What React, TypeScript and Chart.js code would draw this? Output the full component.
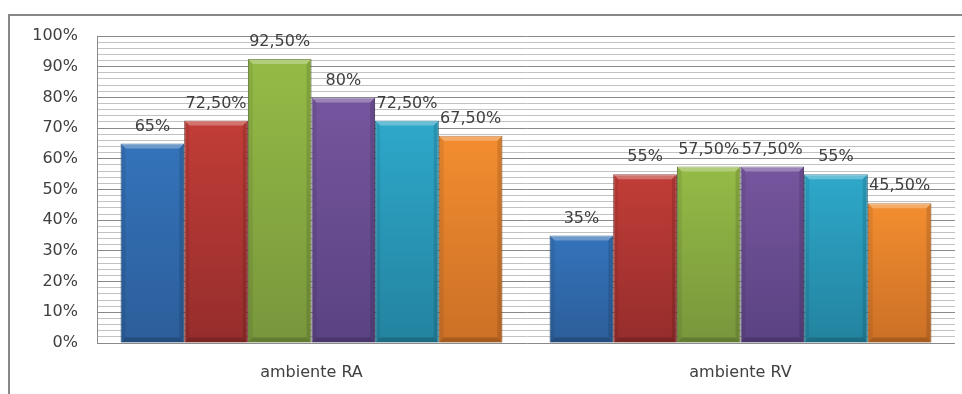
import React, { useEffect, useRef } from "react";
import { Chart, registerables } from "chart.js";

Chart.register(...registerables);

const categories = ["ambiente RA", "ambiente RV"];
const seriesNames = ["Serie 1", "Serie 2", "Serie 3", "Serie 4", "Serie 5", "Serie 6"];
const serie1 = [65, 35];
const serie2 = [72.5, 55];
const serie3 = [92.5, 57.5];
const serie4 = [80, 57.5];
const serie5 = [72.5, 55];
const serie6 = [67.5, 45.5];
const yTicks = [0, 10, 20, 30, 40, 50, 60, 70, 80, 90, 100];

const topColors = ["#3473ba", "#c23d37", "#95bb46", "#76559e", "#2ea8ca", "#f38d30"];
const bottomColors = ["#2c5e9a", "#952d2c", "#78963c", "#5a4382", "#23839f", "#cb7026"];
const borderColors = ["#24507f", "#7e2525", "#637d31", "#4a376b", "#1c6c85", "#a95d1f"];

const FONT = "'DejaVu Sans', sans-serif";

function fmt(v: number): string {
  return Number.isInteger(v) ? `${v}%` : `${v.toFixed(2).replace(".", ",")}%`;
}

const bevelPlugin = {
  id: "bevel",
  afterDatasetsDraw(chart: any) {
    const c = chart.ctx;
    chart.data.datasets.forEach((ds: any, di: number) => {
      const meta = chart.getDatasetMeta(di);
      meta.data.forEach((el: any) => {
        const p = el.getProps(["x", "y", "base", "width"], true);
        const l = p.x - p.width / 2;
        const r = p.x + p.width / 2;
        const t = p.y;
        const b = p.base;
        const d = 5;
        c.save();
        c.fillStyle = "rgba(255,255,255,0.28)";
        c.beginPath();
        c.moveTo(l, t); c.lineTo(r, t); c.lineTo(r - d, t + d); c.lineTo(l + d, t + d); c.closePath();
        c.fill();
        c.fillStyle = "rgba(0,0,0,0.07)";
        c.beginPath();
        c.moveTo(l, t); c.lineTo(l + d, t + d); c.lineTo(l + d, b - d); c.lineTo(l, b); c.closePath();
        c.fill();
        c.fillStyle = "rgba(0,0,0,0.12)";
        c.beginPath();
        c.moveTo(r, t); c.lineTo(r - d, t + d); c.lineTo(r - d, b - d); c.lineTo(r, b); c.closePath();
        c.fill();
        c.fillStyle = "rgba(0,0,0,0.18)";
        c.beginPath();
        c.moveTo(l, b); c.lineTo(l + d, b - d); c.lineTo(r - d, b - d); c.lineTo(r, b); c.closePath();
        c.fill();
        c.restore();
      });
    });
    // data labels
    c.save();
    c.font = `16px ${FONT}`;
    c.fillStyle = "#404040";
    c.textAlign = "center";
    c.textBaseline = "bottom";
    chart.data.datasets.forEach((ds: any, di: number) => {
      const meta = chart.getDatasetMeta(di);
      meta.data.forEach((el: any, i: number) => {
        const p = el.getProps(["x", "y"], true);
        c.fillText(fmt(ds.data[i]), p.x, p.y - 9);
      });
    });
    c.restore();
  },
};

export default function App() {
  const ref = useRef<HTMLCanvasElement | null>(null);

  useEffect(() => {
    if (!ref.current) return;
    const seriesData = [serie1, serie2, serie3, serie4, serie5, serie6];
    const chart = new Chart(ref.current, {
      type: "bar",
      data: {
        labels: categories,
        datasets: seriesData.map((d, i) => ({
          label: seriesNames[i],
          data: d,
          backgroundColor: (ctx: any) => {
            const ch = ctx.chart;
            const ys = ch.scales?.y;
            if (!ys || ctx.raw == null) return topColors[i];
            const top = ys.getPixelForValue(ctx.raw);
            const bottom = ys.getPixelForValue(0);
            if (!isFinite(top) || !isFinite(bottom) || bottom - top < 1) return topColors[i];
            const g = ch.ctx.createLinearGradient(0, top, 0, bottom);
            g.addColorStop(0, topColors[i]);
            g.addColorStop(1, bottomColors[i]);
            return g;
          },
          borderColor: borderColors[i],
          borderWidth: 1,
          categoryPercentage: 0.89,
          barPercentage: 1.0,
        })),
      },
      options: {
        animation: false,
        responsive: false,
        maintainAspectRatio: false,
        layout: { padding: { left: 0, top: 36, right: 7, bottom: 0 } },
        plugins: {
          legend: { display: false },
          tooltip: { enabled: false },
        },
        scales: {
          x: {
            grid: { display: false, drawTicks: false },
            border: { display: false },
            ticks: { color: "#404040", font: { family: FONT, size: 16 }, padding: 20 },
            afterFit: (s: any) => { s.height = 51; },
          },
          y: {
            min: 0,
            max: 100,
            ticks: {
              stepSize: 2,
              autoSkip: false,
              maxTicksLimit: 100,
              padding: 19,
              color: "#404040",
              font: { family: FONT, size: 16 },
              callback: (v: any) => (yTicks.includes(Number(v)) ? `${v}%` : ""),
            },
            grid: {
              drawTicks: false,
              color: (ctx: any) => (ctx.tick && ctx.tick.value % 10 === 0 ? "#8a8a8a" : "#c2c2c2"),
              lineWidth: 1,
            },
            border: { display: true, color: "#8a8a8a", width: 1 },
            afterFit: (s: any) => { s.width = 97; },
          },
        },
      },
      plugins: [bevelPlugin],
    });
    return () => chart.destroy();
  }, []);

  return (
    <div style={{ position: "fixed", left: 0, top: 0, width: 962, height: 394, overflow: "hidden", background: "#fff" }}>
      <div style={{ position: "absolute", left: 8, top: 14, width: 1100, height: 600, border: "2px solid #878787", boxSizing: "border-box" }} />
      <canvas ref={ref} width={962} height={394} style={{ position: "absolute", left: 0, top: 0 }} />
    </div>
  );
}
